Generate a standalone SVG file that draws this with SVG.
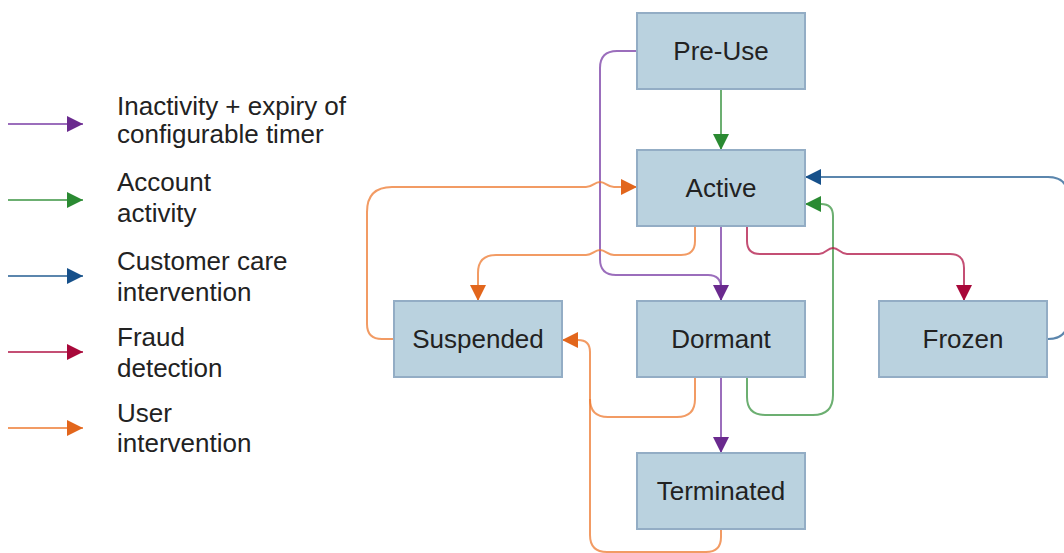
<svg xmlns="http://www.w3.org/2000/svg" width="1064" height="553" viewBox="0 0 1064 553">
<style>
.node rect{fill:#bad2df;stroke:#93adc5;stroke-width:2}
text{font-family:"Liberation Sans",Arial,sans-serif;font-size:26px;fill:#222}
.node text{text-anchor:middle}
.c{fill:none;stroke-width:2;stroke-opacity:0.75}
.pu{stroke:#7a3ea6}.gr{stroke:#3b9441}.bl{stroke:#245d91}.rd{stroke:#b01446}.or{stroke:#ee7a30}
</style>
<defs>
<marker id="aP" markerUnits="userSpaceOnUse" markerWidth="16" markerHeight="16" refX="16" refY="8" orient="auto"><path d="M0,0L16,8L0,16z" fill="#6a2a8e"/></marker>
<marker id="aG" markerUnits="userSpaceOnUse" markerWidth="16" markerHeight="16" refX="16" refY="8" orient="auto"><path d="M0,0L16,8L0,16z" fill="#2a8a32"/></marker>
<marker id="aB" markerUnits="userSpaceOnUse" markerWidth="16" markerHeight="16" refX="16" refY="8" orient="auto"><path d="M0,0L16,8L0,16z" fill="#16508a"/></marker>
<marker id="aR" markerUnits="userSpaceOnUse" markerWidth="16" markerHeight="16" refX="16" refY="8" orient="auto"><path d="M0,0L16,8L0,16z" fill="#a8083a"/></marker>
<marker id="aO" markerUnits="userSpaceOnUse" markerWidth="16" markerHeight="16" refX="16" refY="8" orient="auto"><path d="M0,0L16,8L0,16z" fill="#e2661c"/></marker>
</defs>

<g id="legend">
<path class="c pu" d="M8,124H83" marker-end="url(#aP)"/>
<path class="c gr" d="M8,200H83" marker-end="url(#aG)"/>
<path class="c bl" d="M8,276H83" marker-end="url(#aB)"/>
<path class="c rd" d="M8,352H83" marker-end="url(#aR)"/>
<path class="c or" d="M8,428H83" marker-end="url(#aO)"/>
<text x="117" y="115">Inactivity + expiry of</text>
<text x="117" y="143">configurable timer</text>
<text x="117" y="191">Account</text>
<text x="117" y="222">activity</text>
<text x="117" y="270">Customer care</text>
<text x="117" y="301">intervention</text>
<text x="117" y="346">Fraud</text>
<text x="117" y="377">detection</text>
<text x="117" y="422">User</text>
<text x="117" y="452">intervention</text>
</g>

<g id="connectors">
<path class="c pu" d="M637,51H617Q600,51 600,68V259Q600,275 616,275H708Q721,275 721,288V301"/>
<path class="c pu" d="M721,226V301" marker-end="url(#aP)"/>
<path class="c pu" d="M721,377V453" marker-end="url(#aP)"/>
<path class="c gr" d="M721,89V150" marker-end="url(#aG)"/>
<path class="c gr" d="M747,377V397Q747,415 765,415H813Q833,415 833,395V216Q833,204 821,204H805" marker-end="url(#aG)"/>
<path class="c bl" d="M1047,339H1048Q1068,339 1068,319V197Q1068,177 1048,177H805" marker-end="url(#aB)"/>
<path class="c rd" d="M747,226V241Q747,254 760,254H819C826,254 827,248 833,248C839,248 840,254 847,254H950Q964,254 964,268V301" marker-end="url(#aR)"/>
<path class="c or" d="M394,339H382Q367,339 367,324V212Q367,187 392,187H586C593,187 594,182 600,182C606,182 607,187 614,187H637" marker-end="url(#aO)"/>
<path class="c or" d="M695,226V241Q695,255 681,255H614C607,255 606,250 600,250C594,250 593,255 586,255H496Q478,255 478,273V301" marker-end="url(#aO)"/>
<path class="c or" d="M695,377V399Q695,417 677,417H608Q590,417 590,399V352Q590,340 578,340H562" marker-end="url(#aO)"/>
<path class="c or" d="M721,529V537Q721,552 706,552H607Q590,552 590,535V399"/>
</g>

<g id="n-preuse" class="node"><rect x="637" y="13" width="168" height="76"/><text x="721" y="60">Pre-Use</text></g>
<g id="n-active" class="node"><rect x="637" y="150" width="168" height="76"/><text x="721" y="197">Active</text></g>
<g id="n-suspended" class="node"><rect x="394" y="301" width="168" height="76"/><text x="478" y="348">Suspended</text></g>
<g id="n-dormant" class="node"><rect x="637" y="301" width="168" height="76"/><text x="721" y="348">Dormant</text></g>
<g id="n-frozen" class="node"><rect x="879" y="301" width="168" height="76"/><text x="963" y="348">Frozen</text></g>
<g id="n-terminated" class="node"><rect x="637" y="453" width="168" height="76"/><text x="721" y="500">Terminated</text></g>
</svg>
